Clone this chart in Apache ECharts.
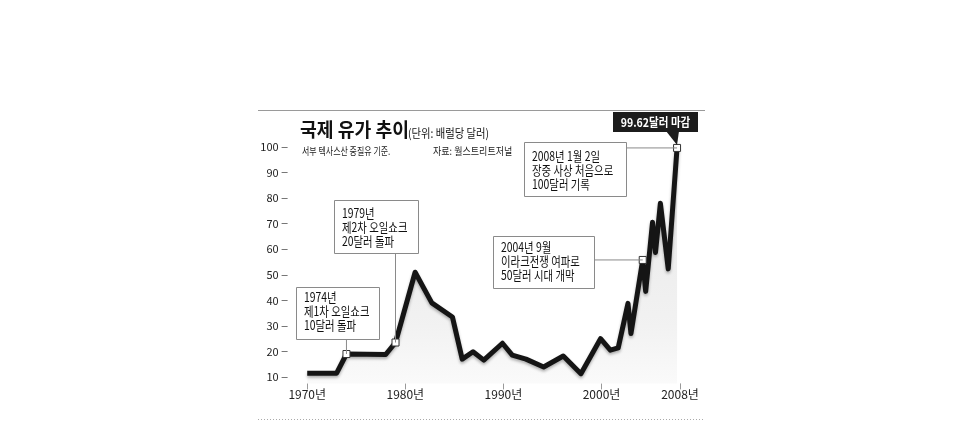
<!DOCTYPE html>
<html>
<head>
<meta charset="utf-8">
<script src="https://cdn.jsdelivr.net/npm/echarts@6/dist/echarts.min.js"></script>
<style>html,body{margin:0;padding:0;background:#fff}#c{width:967px;height:441px}</style>
</head>
<body>
<div id="c"></div>
<script>
// ---- data ----
var years  = [1970, 1973, 1974, 1978, 1979, 1981, 1982.7, 1984.8, 1985.8, 1986.9, 1988, 1989.9, 1990.9, 1992.3, 1994.1, 1996.1, 1997.9, 1999.9, 2000.9, 2001.7, 2002.7, 2003, 2004.2, 2004.5, 2005.2, 2005.5, 2006, 2006.8, 2007.7];
var prices = [11.5, 11.5, 19, 18.8, 23.5, 51, 39, 33.5, 17, 19.9, 16.6, 23.2, 18.6, 17, 13.9, 18.2, 11.3, 25, 20.5, 21.4, 38.8, 27, 55.8, 43.5, 70.5, 58.7, 78, 52.3, 99.62];
var xTicks = [1970, 1980, 1990, 2000, 2008];
var yTicks = [10, 20, 30, 40, 50, 60, 70, 80, 90, 100];
var markerIdx = [2, 4, 22, 28];
var notes = [
  ['1974년', '제1차 오일쇼크', '10달러 돌파'],
  ['1979년', '제2차 오일쇼크', '20달러 돌파'],
  ['2004년 9월', '이라크전쟁 여파로', '50달러 시대 개막'],
  ['2008년 1월 2일', '장중 사상 처음으로', '100달러 기록']
];
var titleText = '국제 유가 추이';
var unitText = '(단위: 배럴당 달러)';
var subText1 = '서부 텍사스산 중질유 기준.';
var subText2 = '자료: 월스트리트저널';
var calloutText = '99.62달러 마감';

var FONT = '"Noto Sans CJK KR", "Noto Sans", sans-serif';
var pts = years.map(function (y, i) { return [y, prices[i]]; });

var chart = echarts.init(document.getElementById('c'), null, {renderer: 'canvas'});
var option = {
  animation: false,
  backgroundColor: '#fff',
  grid: {left: 287.6, right: 287, top: 144.4, bottom: 57.6},
  xAxis: {
    type: 'value', min: 1968, max: 2008,
    axisLine: {show: false},
    splitLine: {show: false},
    axisTick: {show: true, customValues: xTicks, length: 6, lineStyle: {color: '#999'}},
    axisLabel: {customValues: xTicks, formatter: function (v) { return v + '년'; },
      color: '#222', fontSize: 12, fontFamily: FONT, margin: 5}
  },
  yAxis: {
    type: 'value', min: 7.5, max: 101,
    axisLine: {show: false},
    splitLine: {show: false},
    axisTick: {show: true, customValues: yTicks, length: 6, inside: false, lineStyle: {color: '#777'}},
    axisLabel: {customValues: yTicks, color: '#222', fontSize: 11, fontFamily: FONT, margin: 9}
  },
  series: [{
    type: 'line',
    data: pts,
    symbol: 'none',
    lineStyle: {color: '#151515', width: 5, join: 'round', shadowColor: 'rgba(0,0,0,0.3)', shadowBlur: 3, shadowOffsetY: 2},
    areaStyle: {
      origin: 'start',
      color: new echarts.graphic.LinearGradient(0, 0, 0, 1, [
        {offset: 0, color: '#dcdcdc'},
        {offset: 0.75, color: '#ececec'},
        {offset: 1, color: '#f8f8f8'}
      ])
    },
    markPoint: {
      symbol: 'rect', symbolSize: 7,
      itemStyle: {color: '#fff', borderColor: '#333', borderWidth: 1},
      label: {show: false},
      z: 10,
      data: markerIdx.map(function (i) { return {coord: [years[i], prices[i]]}; })
    },
    z: 2
  }]
};
chart.setOption(option);

function px(i) { return chart.convertToPixel({xAxisIndex: 0, yAxisIndex: 0}, [years[i], prices[i]]); }
function txt(x, y, t, size, sx, opt) {
  opt = opt || {};
  return {type: 'text', x: x, y: y, scaleX: sx, z: opt.z || 101,
    style: {text: t, x: 0, y: 0, fill: opt.fill || '#222', font: (opt.weight || 'normal') + ' ' + size + 'px ' + FONT,
      textAlign: opt.align || 'left', textVerticalAlign: 'middle'}};
}
function box(x, y, w, h) {
  return {type: 'rect', z: 100, shape: {x: x, y: y, width: w, height: h},
    style: {fill: '#fff', stroke: '#8a8a8a', lineWidth: 1}};
}
function seg(x1, y1, x2, y2) {
  return {type: 'line', z: 99, shape: {x1: x1, y1: y1, x2: x2, y2: y2}, style: {stroke: '#8a8a8a', lineWidth: 1}};
}

var m = markerIdx.map(px);
var boxes = [
  {x: 296, y: 287, w: 83, h: 52, lines: [297, 311, 325]},
  {x: 334, y: 200, w: 84, h: 53, lines: [213, 227, 241]},
  {x: 493, y: 236, w: 101, h: 52, lines: [247, 261, 275]},
  {x: 524, y: 142, w: 102, h: 54, lines: [156, 170, 184]}
];
var g = [];
// frame lines
g.push({type: 'line', z: 1, shape: {x1: 258, y1: 110.5, x2: 705, y2: 110.5}, style: {stroke: '#9a9a9a', lineWidth: 1}});
g.push({type: 'line', z: 1, shape: {x1: 258, y1: 419.5, x2: 705, y2: 419.5}, style: {stroke: '#aaa', lineWidth: 1, lineDash: [1, 2]}});
// title
g.push(txt(300, 130, titleText, 19, 0.96, {weight: 'bold', fill: '#111'}));
g.push(txt(408, 133, unitText, 12, 0.86, {fill: '#111'}));
g.push(txt(302, 151, subText1, 10.5, 0.76, {fill: '#222'}));
g.push(txt(433, 151, subText2, 10.5, 0.86, {fill: '#222'}));
// connectors
g.push(seg(m[0][0], boxes[0].y + boxes[0].h, m[0][0], m[0][1]));
g.push(seg(m[1][0], boxes[1].y + boxes[1].h, m[1][0], m[1][1]));
g.push(seg(boxes[2].x + boxes[2].w, m[2][1], m[2][0], m[2][1]));
g.push(seg(boxes[3].x + boxes[3].w, m[3][1], m[3][0], m[3][1]));
// boxes + texts
boxes.forEach(function (b, k) {
  g.push(box(b.x + 0.5, b.y + 0.5, b.w, b.h));
  b.lines.forEach(function (ly, j) { g.push(txt(b.x + 8, ly, notes[k][j], 13, 0.8, {fill: '#111'})); });
});
// callout
g.push({type: 'rect', z: 102, shape: {x: 613, y: 112, width: 85, height: 20}, style: {fill: '#1c1c1c'}});
g.push({type: 'polygon', z: 102, shape: {points: [[666, 131], [679, 131], [m[3][0], m[3][1] - 3]]}, style: {fill: '#1c1c1c'}});
g.push(txt(655.5, 122, calloutText, 12, 0.88, {fill: '#fff', weight: 'bold', align: 'center', z: 105}));

chart.setOption({graphic: {elements: g}});
</script>
</body>
</html>
